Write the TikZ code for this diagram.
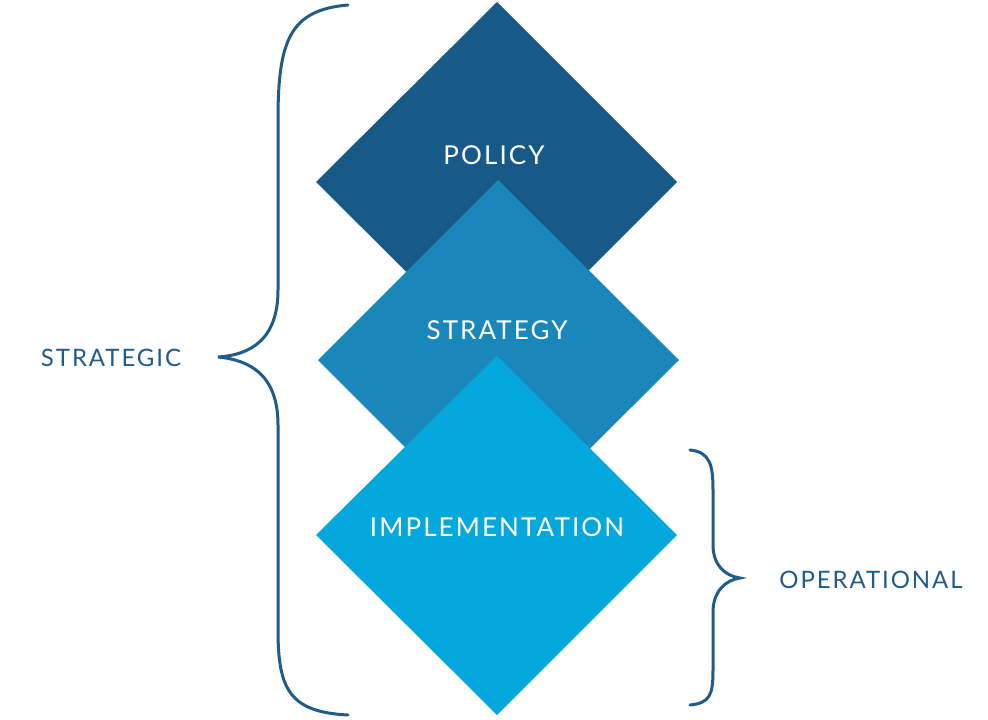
\documentclass[tikz,border=0pt]{standalone}
\usepackage{fontspec}
\setmainfont[LetterSpace=8]{Lato}
\definecolor{dk}{HTML}{175A88}
\definecolor{md}{HTML}{1A87BA}
\definecolor{lt}{HTML}{05A8DC}
\definecolor{tx}{HTML}{1F5C8A}
\tikzset{lab/.style={text=white,font=\fontsize{26}{30}\selectfont},
side/.style={text=tx,font=\fontsize{24}{28}\selectfont},
brace/.style={draw=tx,line width=3pt,line cap=round}}
\begin{document}
\begin{tikzpicture}[x=1pt,y=-1pt]
\useasboundingbox[fill=white] (0,0) rectangle (988,720);
\fill[dk] (497,2) -- (677,182) -- (497,362) -- (316,182) -- cycle;
\fill[md] (498,180) -- (679,360) -- (498,540) -- (318,360) -- cycle;
\fill[lt] (497,356) -- (677,535) -- (497,715) -- (316,535) -- cycle;
\node[lab] (p) at (494,155) {POLICY};
\node[lab] (s) at (497,330) {STRATEGY};
\node[lab] (i) at (497,527) {IMPLEMENTATION};
\draw[brace] (348,5) .. controls (290,10) and (278,40) .. (278,120) -- (278,290) .. controls (278,340) and (250,355) .. (218,357) .. controls (250,360) and (278,375) .. (278,425) -- (278,630) .. controls (278,690) and (290,712) .. (348,715);
\draw[brace] (690,450) .. controls (710,452) and (713,465) .. (713,490) -- (713,545) .. controls (713,565) and (725,576) .. (740,578) .. controls (725,580) and (713,592) .. (713,612) -- (713,670) .. controls (713,695) and (710,703) .. (690,705);
\node[side] (sg) at (111,358) {STRATEGIC};
\node[side] (op) at (871,580) {OPERATIONAL};
\end{tikzpicture}
\end{document}
